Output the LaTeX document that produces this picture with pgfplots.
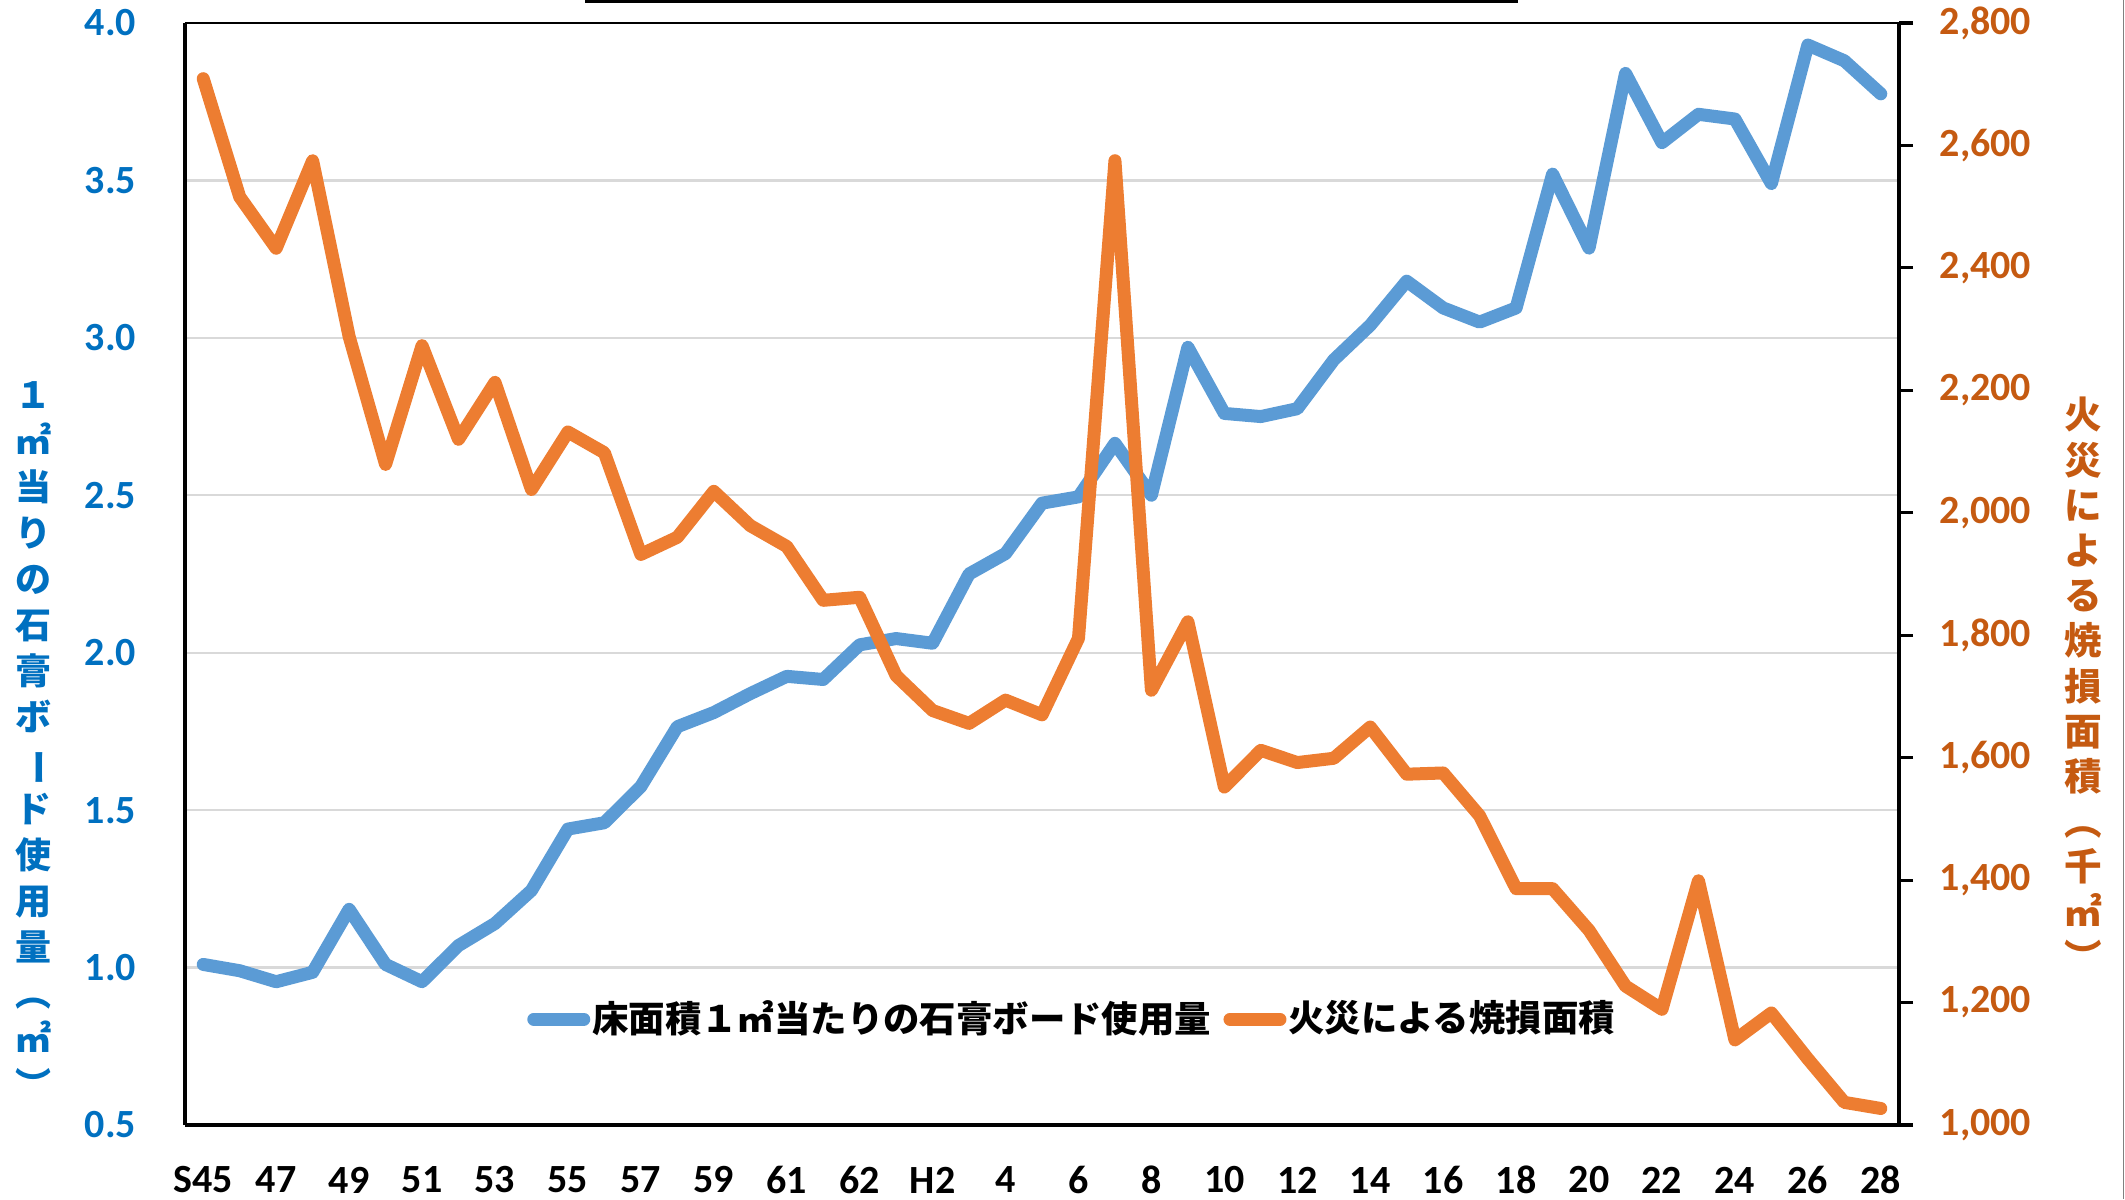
\documentclass[border=0pt]{standalone}
\usepackage{fontspec}
\setmainfont{Carlito}
\newfontfamily\jp{Noto Sans CJK JP}
\usepackage{graphicx}
\usepackage{pgfplots}
\pgfplotsset{compat=1.18}
\definecolor{serblue}{HTML}{5B9BD5}
\definecolor{serorange}{HTML}{ED7D31}
\definecolor{tickblue}{HTML}{0070C0}
\definecolor{tickorange}{HTML}{C55A11}
\definecolor{gridgray}{HTML}{D9D9D9}
\newcommand{\vchar}[1]{\rotatebox[origin=c]{-90}{#1}}
\begin{document}
\begin{tikzpicture}
\pgfplotsset{
  common/.style={scale only axis, width=428.5pt, height=275.5pt,
    xmin=-0.5, xmax=46.5},
}
\begin{axis}[
  common,
  ymin=0.5, ymax=4,
  axis x line*=bottom, axis y line*=left,
  axis line style={line width=0.8pt, black},
  xtick={0,2,...,46},
  xticklabels={S45,47,49,51,53,55,57,59,61,62,H2,4,6,8,10,12,14,16,18,20,22,24,26,28},
  ytick={0.5,1.0,1.5,2.0,2.5,3.0,3.5,4.0},
  yticklabels={0.5,1.0,1.5,2.0,2.5,3.0,3.5,4.0},
  major tick length=0pt,
  ymajorgrids, grid style={gridgray, line width=0.6pt},
  xticklabel style={font=\bfseries\fontsize{10}{12}\selectfont, text=black, anchor=center, inner sep=0pt, yshift=-13.75pt},
  yticklabel style={font=\bfseries\fontsize{10}{12}\selectfont, text=tickblue, anchor=east, inner sep=0pt, xshift=-12pt},
]
\addplot[serblue, line width=3.25pt, line join=round, line cap=round] coordinates {
(0,1.01) (1,0.99) (2,0.955) (3,0.985) (4,1.185) (5,1.01) (6,0.955) (7,1.07)
(8,1.14) (9,1.245) (10,1.44) (11,1.46) (12,1.575) (13,1.765) (14,1.81) (15,1.87)
(16,1.925) (17,1.915) (18,2.025) (19,2.045) (20,2.03) (21,2.25) (22,2.315) (23,2.475)
(24,2.495) (25,2.665) (26,2.50) (27,2.97) (28,2.76) (29,2.75) (30,2.775) (31,2.93)
(32,3.04) (33,3.18) (34,3.095) (35,3.05) (36,3.095) (37,3.52) (38,3.285) (39,3.84)
(40,3.62) (41,3.71) (42,3.695) (43,3.49) (44,3.93) (45,3.88) (46,3.775)
};
\draw[black, line width=0.5pt] (rel axis cs:0,1) -- (rel axis cs:1,1);
\coordinate (SW) at (rel axis cs:0,0);
\coordinate (SE) at (rel axis cs:1,0);
\coordinate (NW) at (rel axis cs:0,1);
\coordinate (NE) at (rel axis cs:1,1);
\end{axis}
\begin{axis}[
  common,
  ymin=1000, ymax=2800,
  axis y line*=right, axis x line=none,
  axis line style={line width=0.8pt, black},
  xtick=\empty,
  ytick={1000,1200,1400,1600,1800,2000,2200,2400,2600,2800},
  yticklabels={{1,000},{1,200},{1,400},{1,600},{1,800},{2,000},{2,200},{2,400},{2,600},{2,800}},
  tick align=outside, major tick length=3.5pt,
  tick style={black, line width=0.8pt},
  yticklabel style={font=\bfseries\fontsize{10}{12}\selectfont, text=tickorange, anchor=west, inner sep=0pt, xshift=6.5pt},
  legend columns=2,
  legend style={at={(0.517,0.096)}, anchor=center, draw=none, fill=none,
    font=\jp\bfseries\fontsize{9.1}{11}\selectfont, inner sep=0pt,
    nodes={inner sep=0pt},
    /tikz/every odd column/.append style={column sep=0.5pt},
    /tikz/every even column/.append style={column sep=3.1pt}},
  legend image code/.code={\draw[#1] (0pt,0pt) -- (12.5pt,0pt);},
]
\addlegendimage{serblue, line width=3.25pt, line cap=round}
\addlegendentry{床面積１㎡当たりの石膏ボード使用量}
\addplot[serorange, line width=3.25pt, line join=round, line cap=round] coordinates {
(0,2709) (1,2516) (2,2432) (3,2575) (4,2288) (5,2079) (6,2273) (7,2120)
(8,2213) (9,2038) (10,2132) (11,2098) (12,1932) (13,1960) (14,2035) (15,1979)
(16,1945) (17,1857) (18,1862) (19,1734) (20,1677) (21,1656) (22,1694) (23,1670)
(24,1795) (25,2575) (26,1710) (27,1822) (28,1552) (29,1612) (30,1592) (31,1599)
(32,1650) (33,1573) (34,1575) (35,1505) (36,1386) (37,1386) (38,1318) (39,1227)
(40,1189) (41,1399) (42,1139) (43,1183) (44,1108) (45,1037) (46,1027)
};
\addlegendentry{火災による焼損面積}
\end{axis}
\pgfresetboundingbox
\path[use as bounding box] ([shift={(-46.25pt,-18.5pt)}]SW) rectangle ([shift={(56.5pt,5.75pt)}]NE);
\node[align=center, inner sep=0pt, text=tickblue, font=\jp\bfseries\fontsize{9}{11.5}\selectfont]
  at ([shift={(-37.75pt,96.3pt)}]SW)
  {１\\㎡\\当\\り\\の\\石\\膏\\ボ\\\vchar{ー}\\ド\\使\\用\\量\\︵\\㎡\\︶};
\node[align=center, inner sep=0pt, text=tickorange, font=\jp\bfseries\fontsize{9.4}{11.3}\selectfont]
  at ([shift={(46pt,110.2pt)}]SE)
  {火\\災\\に\\よ\\る\\焼\\損\\面\\積\\︵\\千\\㎡\\︶};
\draw[black, line width=0.75pt] ([shift={(100pt,5.375pt)}]NW) -- ([shift={(333.25pt,5.375pt)}]NW);
\draw[gray, line width=0.4pt] ([shift={(56.1pt,-18.5pt)}]SE) -- ([shift={(56.1pt,5.75pt)}]NE);
\end{tikzpicture}
\end{document}
